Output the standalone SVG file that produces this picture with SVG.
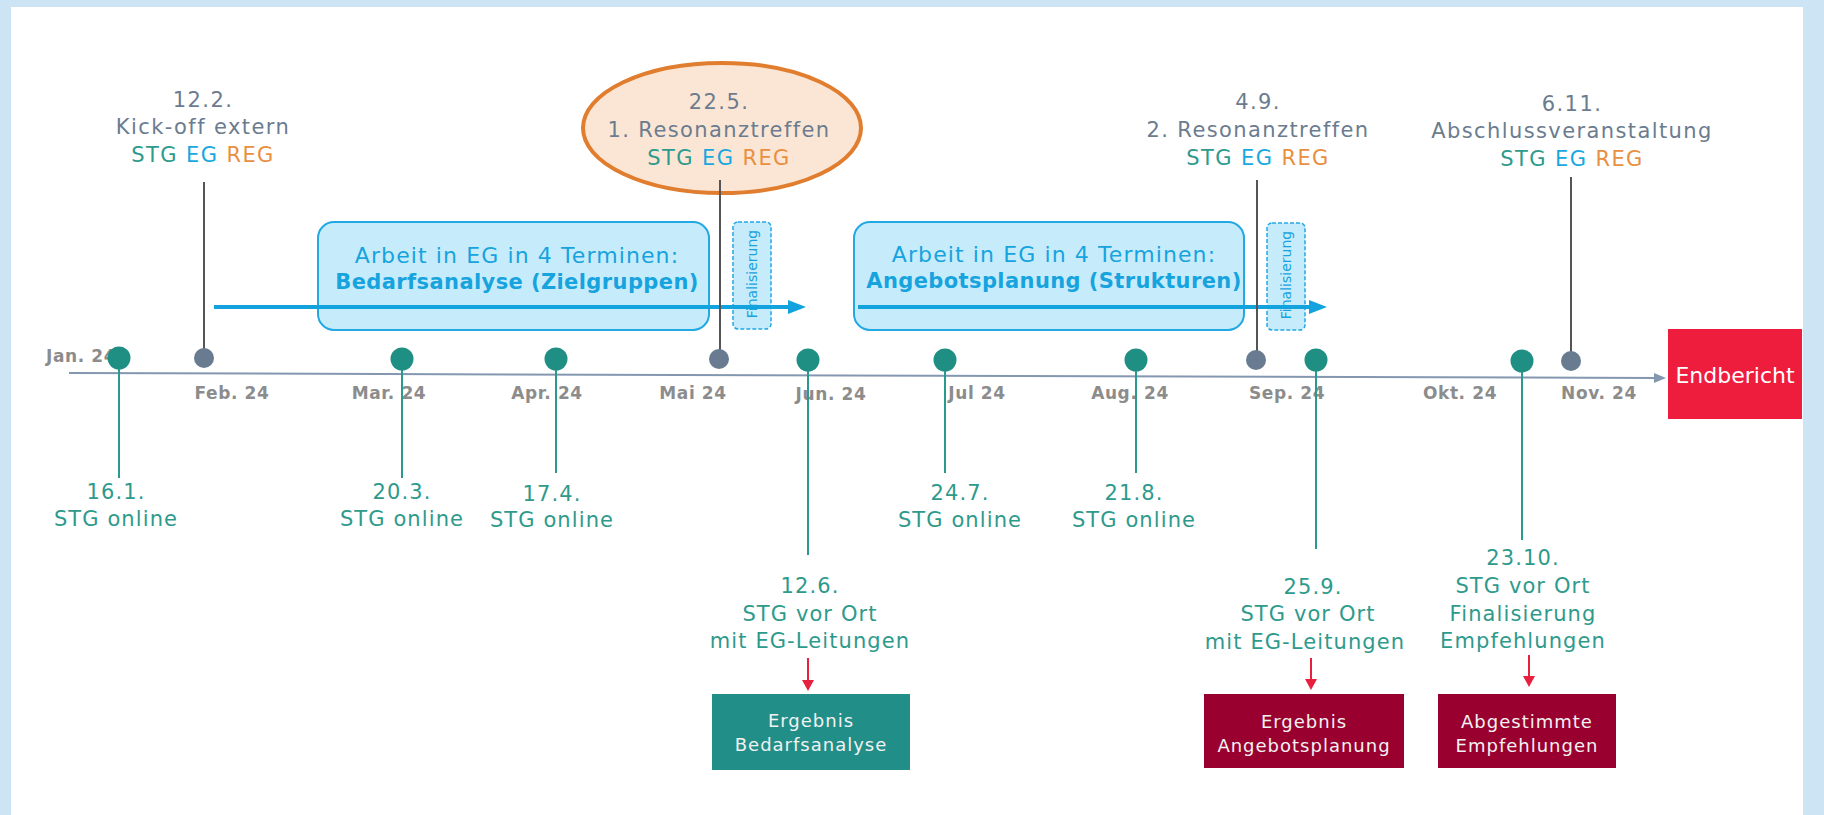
<svg xmlns="http://www.w3.org/2000/svg" width="1824" height="815" viewBox="0 0 1824 815">
<defs>
<style>
text{font-family:"DejaVu Sans","Liberation Sans",sans-serif}
.top{font-size:21px;fill:#6b7c8f;letter-spacing:1.4px;text-anchor:middle}
.stg{fill:#2e9a8c}.eg{fill:#17a8e0}.reg{fill:#e8903f}
.bot{font-size:21px;fill:#2e9a8c;letter-spacing:1.1px;text-anchor:middle}
.mon{font-size:17px;font-weight:bold;fill:#8c8c8c;letter-spacing:.6px;text-anchor:middle}
.bx1{font-size:22px;fill:#17a3de;letter-spacing:1.1px;text-anchor:middle}
.bx2{font-size:21px;font-weight:bold;fill:#17a3de;letter-spacing:.4px;text-anchor:middle}
.fin{font-size:14px;fill:#17a3de;text-anchor:middle;dominant-baseline:central}
.res{font-size:18px;fill:#f2f2f2;letter-spacing:1px;text-anchor:middle}
.box{fill:#c6ecfc;stroke:#22a8e3;stroke-width:2}
.dash{fill:#c6ecfc;stroke:#22a8e3;stroke-width:1.5;stroke-dasharray:4 2}
.gl{stroke:#555;stroke-width:2}
.tl{stroke:#2a9a90;stroke-width:2}
.td{fill:#1f8f84}
.gd{fill:#687b91}
.ra{stroke:#e8203f;stroke-width:2}
.ba{stroke:#12a3df;stroke-width:4}
</style>
<marker id="mb" markerUnits="userSpaceOnUse" markerWidth="20" markerHeight="16" refX="7" refY="8" orient="auto"><path d="M0,1 L18,8 L0,15 Z" fill="#12a3df"/></marker>
<marker id="mr" markerUnits="userSpaceOnUse" markerWidth="12" markerHeight="12" refX="2" refY="6" orient="auto"><path d="M0,0 L11,6 L0,12 Z" fill="#e8203f"/></marker>
<marker id="mg" markerUnits="userSpaceOnUse" markerWidth="14" markerHeight="12" refX="2" refY="5" orient="auto"><path d="M0,0 L12,5 L0,10 Z" fill="#8497b0"/></marker>
</defs>
<rect x="0" y="0" width="1824" height="815" fill="#cce4f3"/>
<rect x="11" y="7" width="1792" height="808" fill="#ffffff"/>

<g id="months">
<text class="mon" x="46" y="362" style="text-anchor:start">Jan. 24</text>
<text class="mon" x="232" y="399">Feb. 24</text>
<text class="mon" x="389" y="399">Mar. 24</text>
<text class="mon" x="547" y="399">Apr. 24</text>
<text class="mon" x="693" y="399">Mai 24</text>
<text class="mon" x="831" y="400">Jun. 24</text>
<text class="mon" x="977" y="399">Jul 24</text>
<text class="mon" x="1130" y="399">Aug. 24</text>
<text class="mon" x="1287" y="399">Sep. 24</text>
<text class="mon" x="1460" y="399">Okt. 24</text>
<text class="mon" x="1599" y="399">Nov. 24</text>
</g>

<g id="res1-ellipse">
<ellipse cx="722" cy="128" rx="139" ry="65" fill="#fbe6d6" stroke="#e07d2e" stroke-width="4"/>
</g>

<g id="eg-box-1">
<rect class="box" x="318" y="222" width="391" height="108" rx="16"/>
<text class="bx1" x="517" y="263">Arbeit in EG in 4 Terminen:</text>
<text class="bx2" x="517" y="289">Bedarfsanalyse (Zielgruppen)</text>
</g>
<g id="fin-1">
<rect class="dash" x="733" y="222" width="38" height="107" rx="5"/>
<text class="fin" transform="translate(752,274) rotate(-90)">Finalisierung</text>
</g>
<g id="eg-box-2">
<rect class="box" x="854" y="222" width="390" height="108" rx="16"/>
<text class="bx1" x="1054" y="262">Arbeit in EG in 4 Terminen:</text>
<text class="bx2" x="1054" y="288">Angebotsplanung (Strukturen)</text>
</g>
<g id="fin-2">
<rect class="dash" x="1267" y="223" width="38" height="107" rx="5"/>
<text class="fin" transform="translate(1286,275) rotate(-90)">Finalisierung</text>
</g>

<g id="connectors">
<line x1="69" y1="373" x2="1656" y2="378" stroke="#8497b0" stroke-width="2" marker-end="url(#mg)"/>
<line class="ba" x1="214" y1="307" x2="795" y2="307" marker-end="url(#mb)"/>
<line class="ba" x1="858" y1="307" x2="1316" y2="307" marker-end="url(#mb)"/>
<line class="gl" x1="204" y1="182" x2="204" y2="358"/>
<line class="gl" x1="720" y1="180" x2="720" y2="359"/>
<line class="gl" x1="1257" y1="180" x2="1257" y2="360"/>
<line class="gl" x1="1571" y1="177" x2="1571" y2="361"/>
<line class="tl" x1="119" y1="358" x2="119" y2="478"/>
<line class="tl" x1="402" y1="359" x2="402" y2="478"/>
<line class="tl" x1="556" y1="359" x2="556" y2="473"/>
<line class="tl" x1="808" y1="360" x2="808" y2="555"/>
<line class="tl" x1="945" y1="360" x2="945" y2="473"/>
<line class="tl" x1="1136" y1="360" x2="1136" y2="473"/>
<line class="tl" x1="1316" y1="360" x2="1316" y2="549"/>
<line class="tl" x1="1522" y1="361" x2="1522" y2="540"/>
<line class="ra" x1="808" y1="658" x2="808" y2="682" marker-end="url(#mr)"/>
<line class="ra" x1="1311" y1="658" x2="1311" y2="681" marker-end="url(#mr)"/>
<line class="ra" x1="1529" y1="655" x2="1529" y2="678" marker-end="url(#mr)"/>
</g>

<g id="dots">
<circle class="td" cx="119" cy="358" r="11.5"/>
<circle class="gd" cx="204" cy="358" r="10"/>
<circle class="td" cx="402" cy="359" r="11.5"/>
<circle class="td" cx="556" cy="359" r="11.5"/>
<circle class="gd" cx="719" cy="359" r="10"/>
<circle class="td" cx="808" cy="360" r="11.5"/>
<circle class="td" cx="945" cy="360" r="11.5"/>
<circle class="td" cx="1136" cy="360" r="11.5"/>
<circle class="gd" cx="1256" cy="360" r="10"/>
<circle class="td" cx="1316" cy="360" r="11.5"/>
<circle class="td" cx="1522" cy="361" r="11.5"/>
<circle class="gd" cx="1571" cy="361" r="10"/>
</g>

<g id="kickoff">
<text class="top" x="203" y="107">12.2.</text>
<text class="top" x="203" y="134">Kick-off extern</text>
<text class="top" x="203" y="162"><tspan class="stg">STG</tspan> <tspan class="eg">EG</tspan> <tspan class="reg">REG</tspan></text>
</g>
<g id="resonanz1">
<text class="top" x="719" y="109">22.5.</text>
<text class="top" x="719" y="137">1. Resonanztreffen</text>
<text class="top" x="719" y="165"><tspan class="stg">STG</tspan> <tspan class="eg">EG</tspan> <tspan class="reg">REG</tspan></text>
</g>
<g id="resonanz2">
<text class="top" x="1258" y="109">4.9.</text>
<text class="top" x="1258" y="137">2. Resonanztreffen</text>
<text class="top" x="1258" y="165"><tspan class="stg">STG</tspan> <tspan class="eg">EG</tspan> <tspan class="reg">REG</tspan></text>
</g>
<g id="abschluss">
<text class="top" x="1572" y="111">6.11.</text>
<text class="top" x="1572" y="138">Abschlussveranstaltung</text>
<text class="top" x="1572" y="166"><tspan class="stg">STG</tspan> <tspan class="eg">EG</tspan> <tspan class="reg">REG</tspan></text>
</g>

<g id="m-16-1">
<text class="bot" x="116" y="499">16.1.</text>
<text class="bot" x="116" y="526">STG online</text>
</g>
<g id="m-20-3">
<text class="bot" x="402" y="499">20.3.</text>
<text class="bot" x="402" y="526">STG online</text>
</g>
<g id="m-17-4">
<text class="bot" x="552" y="501">17.4.</text>
<text class="bot" x="552" y="527">STG online</text>
</g>
<g id="m-12-6">
<text class="bot" x="810" y="593">12.6.</text>
<text class="bot" x="810" y="621">STG vor Ort</text>
<text class="bot eg" x="810" y="648">mit EG-Leitungen</text>
</g>
<g id="m-24-7">
<text class="bot" x="960" y="500">24.7.</text>
<text class="bot" x="960" y="527">STG online</text>
</g>
<g id="m-21-8">
<text class="bot" x="1134" y="500">21.8.</text>
<text class="bot" x="1134" y="527">STG online</text>
</g>
<g id="m-25-9">
<text class="bot" x="1313" y="594">25.9.</text>
<text class="bot" x="1308" y="621">STG vor Ort</text>
<text class="bot eg" x="1305" y="649">mit EG-Leitungen</text>
</g>
<g id="m-23-10">
<text class="bot" x="1523" y="565">23.10.</text>
<text class="bot" x="1523" y="593">STG vor Ort</text>
<text class="bot" x="1523" y="621">Finalisierung</text>
<text class="bot" x="1523" y="648">Empfehlungen</text>
</g>

<g id="endbericht">
<rect x="1668" y="329" width="134" height="90" fill="#ee1c3d"/>
<text x="1735" y="383" font-size="22" fill="#ffffff" text-anchor="middle">Endbericht</text>
</g>
<g id="ergebnis-bedarf">
<rect x="712" y="694" width="198" height="76" fill="#218f88"/>
<text class="res" x="811" y="727">Ergebnis</text>
<text class="res" x="811" y="751">Bedarfsanalyse</text>
</g>
<g id="ergebnis-angebot">
<rect x="1204" y="694" width="200" height="74" fill="#99002f"/>
<text class="res" x="1304" y="728">Ergebnis</text>
<text class="res" x="1304" y="752">Angebotsplanung</text>
</g>
<g id="empfehlungen">
<rect x="1438" y="694" width="178" height="74" fill="#99002f"/>
<text class="res" x="1527" y="728">Abgestimmte</text>
<text class="res" x="1527" y="752">Empfehlungen</text>
</g>
</svg>
